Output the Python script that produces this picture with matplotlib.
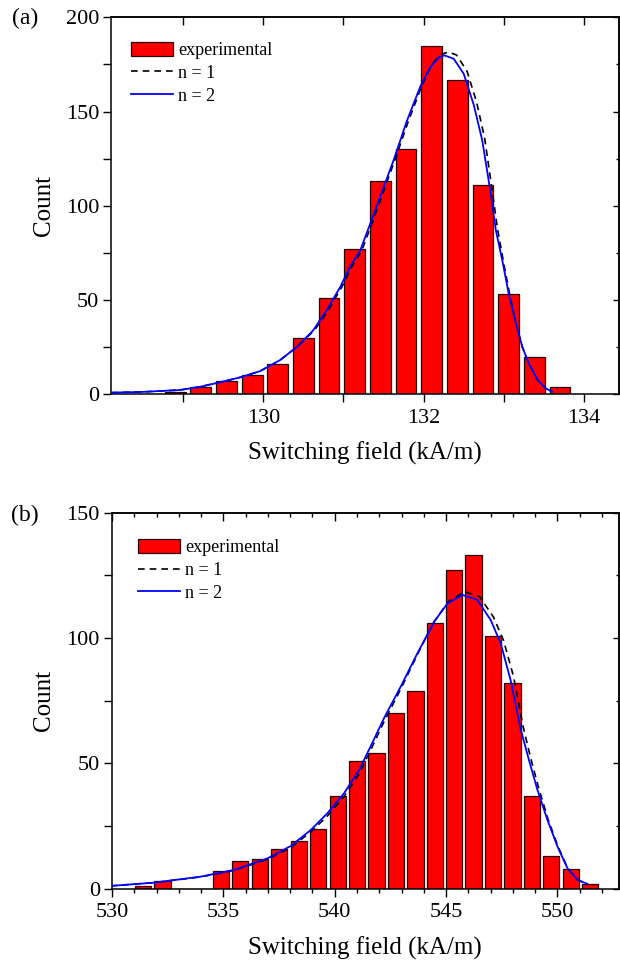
import matplotlib
matplotlib.use("Agg")
import matplotlib.pyplot as plt
from matplotlib.ticker import MultipleLocator, NullFormatter
from matplotlib.patches import Patch
from matplotlib.lines import Line2D

plt.rcParams['font.family'] = ['Liberation Serif', 'DejaVu Serif']

# ---- panel (a) data ----
a_centers = [128.90, 129.22, 129.54, 129.86, 130.18, 130.50, 130.82, 131.14,
             131.46, 131.78, 132.10, 132.42, 132.74, 133.06, 133.38, 133.70]
a_counts = [1, 4, 7, 10, 16, 30, 51, 77, 113, 130, 185, 167, 111, 53, 20, 4]

a_n2_x = [128.10, 128.50, 128.96, 129.21, 129.46, 129.71, 129.96, 130.21, 130.42,
          130.625, 130.79, 130.96, 131.08, 131.21, 131.32, 131.44, 131.625, 131.79,
          131.96, 132.08, 132.19, 132.26, 132.375, 132.50, 132.625, 132.73, 132.83,
          132.90, 132.98, 133.06, 133.15, 133.23, 133.31, 133.42, 133.52, 133.60]
a_n2_y = [0.9, 1.3, 2.3, 4.0, 6.4, 9.0, 12.3, 18.2, 25.2,
          34.1, 44.7, 57.0, 67.6, 76.5, 89, 103, 124.2, 145.0,
          163.5, 173.5, 178.8, 179.8, 178.0, 170.0, 153.5, 134.8, 108.3,
          87.1, 71.2, 53.5, 37.6, 25.2, 16.4, 7.6, 3.2, 1.4]

a_n1_x = [128.10, 128.50, 128.96, 129.21, 129.46, 129.71, 129.96, 130.21, 130.42,
          130.64, 130.81, 130.98, 131.10, 131.23, 131.34, 131.46, 131.64, 131.81,
          131.98, 132.10, 132.21, 132.31, 132.41, 132.54, 132.66, 132.76, 132.85,
          132.92, 132.99, 133.07, 133.15, 133.23, 133.31, 133.42, 133.52, 133.60]
a_n1_y = [0.9, 1.3, 2.3, 4.0, 6.4, 9.0, 12.3, 18.2, 25.2,
          34.1, 44.7, 57.0, 67.6, 76.5, 89, 103, 124.2, 145.0,
          164.0, 175.0, 180.2, 181.6, 180.0, 171.5, 155, 136, 109.5,
          88, 71.5, 53.5, 37.6, 25.2, 16.4, 7.6, 3.2, 1.4]

# ---- panel (b) data ----
b_centers = [531.40, 532.27, 533.15, 534.02, 534.89, 535.76, 536.64, 537.51,
             538.38, 539.25, 540.13, 541.00, 541.87, 542.74, 543.62, 544.49,
             545.36, 546.23, 547.11, 547.98, 548.85, 549.72, 550.60, 551.47]
b_counts = [1, 3, 0, 0, 7, 11, 12, 16, 19, 24, 37, 51, 54, 70, 79, 106,
            127, 133, 101, 82, 37, 13, 8, 2]

b_n2_x = [529.94, 531.88, 533.98, 535.48, 536.98, 538.02, 538.92, 539.67, 540.42,
          541.09, 541.65, 542.21, 542.96, 543.71, 544.46, 545.06, 545.73, 546.40,
          547.00, 547.45, 547.90, 548.20, 548.35, 548.72, 549.10, 549.55, 550.00,
          550.45, 550.90, 551.34]
b_n2_y = [1.1, 2.4, 4.8, 7.5, 12.1, 17.0, 23.4, 30.1, 38.1,
          47.3, 57.5, 68.0, 80.6, 93.9, 106.5, 113.8, 117.2, 115.2,
          107.2, 97.9, 83.0, 70.0, 63.5, 51.3, 39.4, 27.4, 16.8,
          8.1, 3.5, 1.9]

b_n1_x = [529.94, 531.88, 533.98, 535.48, 536.98, 538.02, 538.92, 539.67, 540.42,
          541.09, 541.65, 542.21, 542.96, 543.71, 544.46, 545.10, 545.82, 546.50,
          547.12, 547.58, 548.03, 548.32, 548.46, 548.80, 549.16, 549.58, 550.02,
          550.46, 550.90, 551.34]
b_n1_y = [1.1, 2.4, 4.7, 7.3, 11.7, 16.4, 22.6, 29.0, 36.8,
          45.8, 56.0, 66.6, 79.6, 93.4, 106.5, 114.5, 118.5, 116.5,
          108.5, 99, 84.5, 71.0, 64.5, 52.0, 40.0, 27.6, 16.9,
          8.1, 3.5, 1.9]

fig = plt.figure(figsize=(6.2, 9.67), dpi=100)
ax_a = fig.add_axes([0.179, 0.5922, 0.8186, 0.3899])
ax_b = fig.add_axes([0.180, 0.0810, 0.8176, 0.3888])


def style_axes(ax, xmaj, xmin, xlim, ymaj, ymin, ylim, xminlen):
    ax.set_xlim(*xlim)
    ax.set_ylim(*ylim)
    ax.xaxis.set_major_locator(MultipleLocator(xmaj))
    ax.xaxis.set_minor_locator(MultipleLocator(xmin))
    ax.yaxis.set_major_locator(MultipleLocator(ymaj))
    ax.yaxis.set_minor_locator(MultipleLocator(ymin))
    ax.tick_params(axis='x', which='major', direction='out', length=5.5, width=1,
                   labelsize=16, pad=5)
    ax.tick_params(axis='x', which='minor', direction='out', length=xminlen, width=1)
    ax.tick_params(axis='y', which='both', direction='out', length=5.5, width=1,
                   labelsize=16, pad=3)
    for s in ax.spines.values():
        s.set_linewidth(1.1)
    top = ax.secondary_xaxis('top')
    top.xaxis.set_major_locator(MultipleLocator(xmaj))
    top.xaxis.set_minor_locator(MultipleLocator(xmin))
    top.xaxis.set_major_formatter(NullFormatter())
    top.tick_params(axis='x', which='major', direction='in', length=5.5, width=1)
    top.tick_params(axis='x', which='minor', direction='in', length=xminlen, width=1)
    top.spines['top'].set_linewidth(1.1)
    right = ax.secondary_yaxis('right')
    right.yaxis.set_major_locator(MultipleLocator(ymaj))
    right.yaxis.set_minor_locator(MultipleLocator(ymin))
    right.yaxis.set_major_formatter(NullFormatter())
    right.tick_params(axis='y', which='major', direction='in', length=4, width=1)
    right.tick_params(axis='y', which='minor', direction='in', length=2, width=1)
    right.spines['right'].set_linewidth(1.1)
    ax.set_xlabel('Switching field (kA/m)', fontsize=18, labelpad=10)
    ax.set_ylabel('Count', fontsize=18, labelpad=8)


def draw_panel(ax, centers, counts, width, n1x, n1y, n2x, n2y, legend_anchor):
    ax.bar(centers, counts, width=width, color='#ff0000', edgecolor='#2a0000',
           linewidth=0.9, zorder=2)
    ax.plot(n1x, n1y, color='black', linestyle=(0, (4, 3)), linewidth=1.2, zorder=3)
    ax.plot(n2x, n2y, color='#0000ff', linewidth=1.3, zorder=4)
    handles = [Patch(facecolor='#ff0000', edgecolor='#2a0000', linewidth=0.9),
               Line2D([], [], color='black', linestyle=(0, (4, 3)), linewidth=1.2),
               Line2D([], [], color='#0000ff', linewidth=1.3)]
    ax.legend(handles, ['experimental', 'n = 1', 'n = 2'], loc='upper left',
              bbox_to_anchor=legend_anchor, frameon=False, fontsize=13,
              handlelength=2.3, handleheight=0.85, handletextpad=0.3,
              labelspacing=0.3, borderaxespad=0, borderpad=0)


draw_panel(ax_a, a_centers, a_counts, 0.26, a_n1_x, a_n1_y, a_n2_x, a_n2_y,
           (0.04, 0.935))
style_axes(ax_a, 2, 1, (128.1, 134.43), 50, 25, (0, 200), 5.5)

draw_panel(ax_b, b_centers, b_counts, 0.73, b_n1_x, b_n1_y, b_n2_x, b_n2_y,
           (0.053, 0.93))
style_axes(ax_b, 5, 1, (529.98, 552.74), 50, 25, (0, 150), 3)

fig.text(25 / 620, 1 - 18 / 967, '(a)', fontsize=17, ha='center', va='center')
fig.text(25 / 620, 1 - 515 / 967, '(b)', fontsize=17, ha='center', va='center')

fig.savefig('out.png', dpi=100)
